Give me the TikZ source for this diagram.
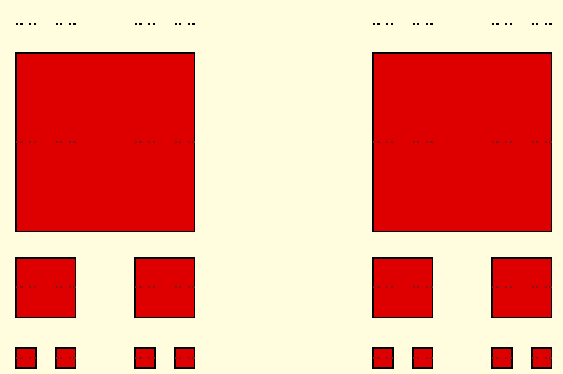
\documentclass[tikz,border=0pt]{standalone}
\definecolor{paper}{RGB}{255,253,221}
\definecolor{cantorred}{RGB}{222,0,0}
\definecolor{dotred}{RGB}{140,20,20}
\tikzset{
  cantorsq/.style={fill=cantorred, draw=black, line width=1.8pt},
  dustdot/.style={fill=#1, draw=none},
}
\begin{document}
\begin{tikzpicture}[x=1pt,y=-1pt]
  \useasboundingbox (0,0) rectangle (563,374);
  \fill[paper] (0,0) rectangle (563,374);
  \def\len{535.5}
  % first three stages of the dust, one row each
  \foreach \a in {0,1}{
    \pgfmathsetmacro\xa{16+\a*2*\len/3}
    \draw[cantorsq] (\xa,53) rectangle ++(\len/3,\len/3);
    \foreach \b in {0,1}{
      \pgfmathsetmacro\xb{\xa+\b*2*\len/9}
      \draw[cantorsq] (\xb,258) rectangle ++(\len/9,\len/9);
      \foreach \c in {0,1}{
        \pgfmathsetmacro\xc{\xb+\c*2*\len/27}
        \draw[cantorsq] (\xc,348) rectangle ++(\len/27,\len/27);
      }
    }
  }
  % fifth stage: tiny dots on top, faint copies across the squares
  \foreach \a in {0,1}{
    \foreach \b in {0,1}{
      \foreach \c in {0,1}{
        \foreach \d in {0,1}{
          \foreach \e in {0,1}{
            \pgfmathsetmacro\xe{16+\a*2*\len/3+\b*2*\len/9+\c*2*\len/27+\d*2*\len/81+\e*2*\len/243}
            \fill[dustdot=black] (\xe,23) rectangle ++(\len/243,2.4);
            \fill[dustdot=dotred] (\xe,141) rectangle ++(\len/243,2);
            \fill[dustdot=dotred] (\xe,286) rectangle ++(\len/243,2);
            \fill[dustdot=dotred] (\xe,357) rectangle ++(\len/243,2);
          }
        }
      }
    }
  }
\end{tikzpicture}
\end{document}
